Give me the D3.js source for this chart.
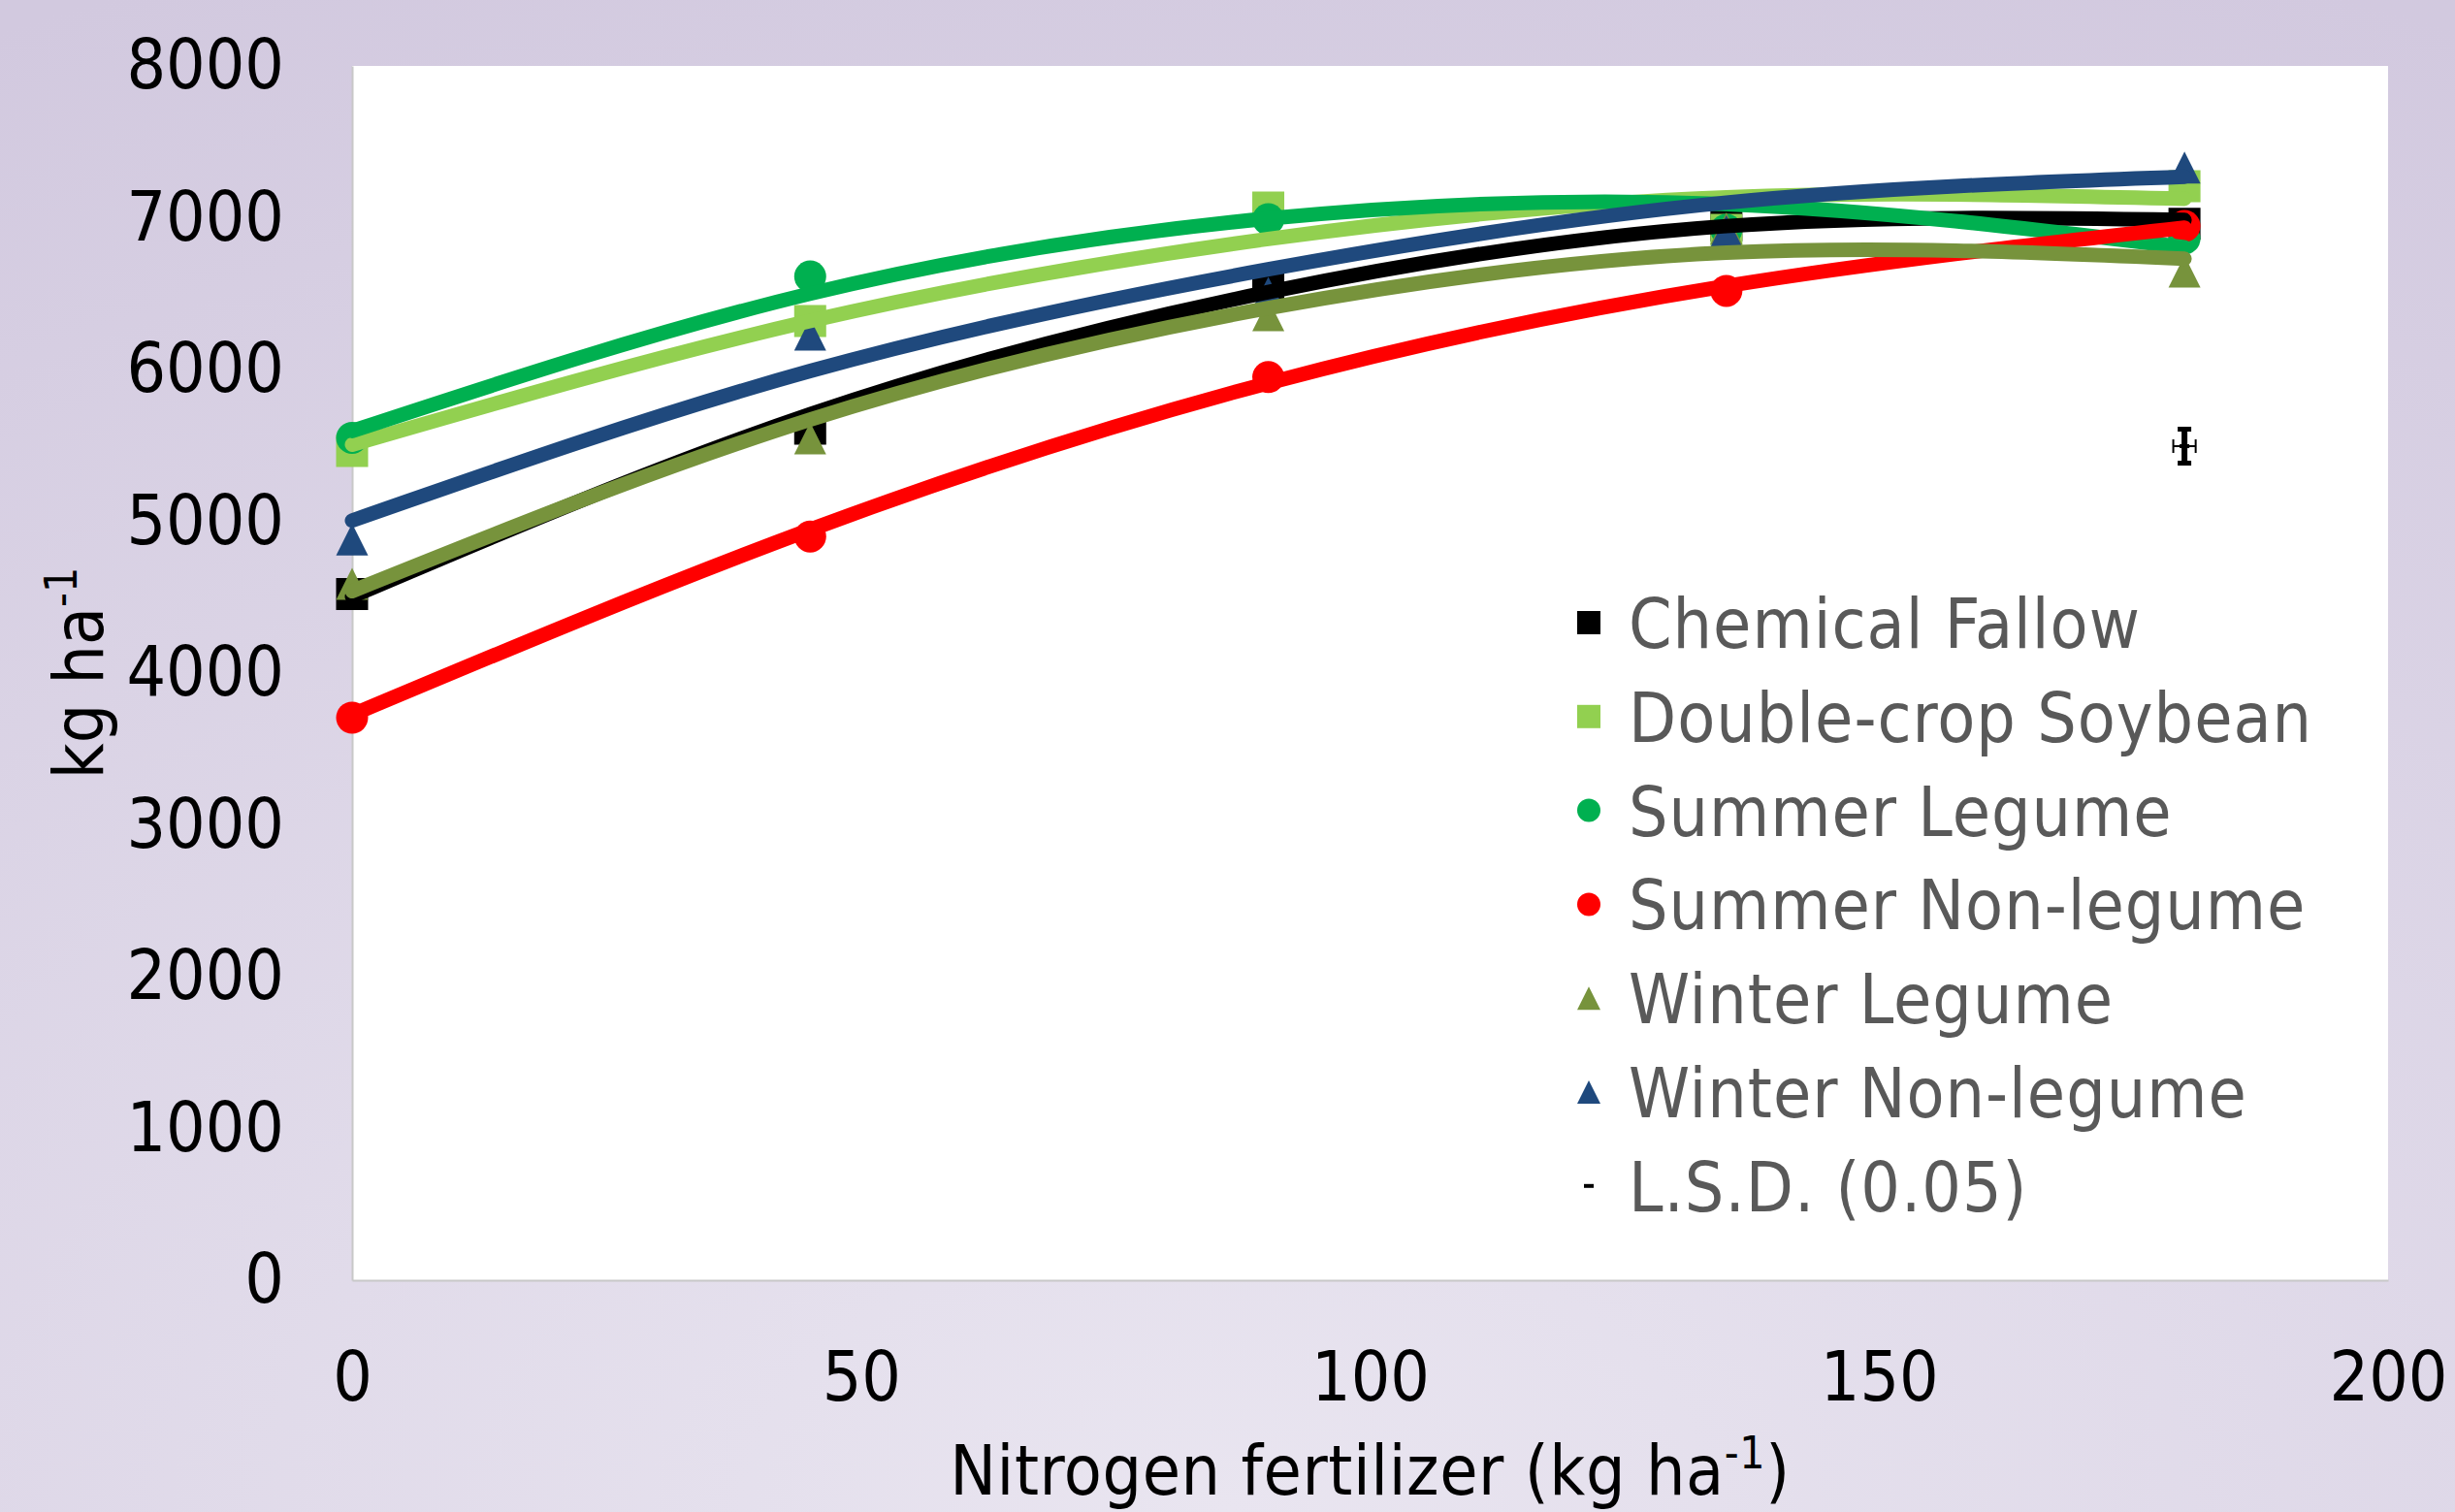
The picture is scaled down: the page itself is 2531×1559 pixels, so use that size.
<!DOCTYPE html>
<html lang="en">
<head>
<meta charset="utf-8">
<title>Yield response to nitrogen fertilizer</title>
<script src="https://cdnjs.cloudflare.com/ajax/libs/d3/7.8.5/d3.min.js"></script>
<style>
  body { margin: 0; overflow: hidden; }
  text { font-family: "DejaVu Sans Condensed", "DejaVu Sans", sans-serif; font-stretch: condensed; }
</style>
</head>
<body>
<svg id="chart"></svg>
<script>
  // N rates on the x axis
  var nRates = [0, 45, 90, 135, 180];

  var seriesNames = ["Chemical Fallow", "Double-crop Soybean", "Summer Legume",
    "Summer Non-legume", "Winter Legume", "Winter Non-legume"];

  // observed yields (kg/ha) at each N rate
  var chemicalFallow   = [4520, 5610, 6560, 6950, 6960];
  var doubleCropSoy    = [5463, 6320, 7067, 6920, 7208];
  var summerLegume     = [5550, 6613, 6990, 6920, 6863];
  var summerNonLegume  = [3706, 4900, 5950, 6518, 6945];
  var winterLegume     = [4588, 5546, 6358, 6930, 6645];
  var winterNonLegume  = [4880, 6230, 6505, 6910, 7330];

  // trend line values at the same N rates
  var chemicalFallowTrend  = [4505, 5705, 6510, 6945, 6985];
  var doubleCropSoyTrend   = [5505, 6320, 6860, 7135, 7125];
  var summerLegumeTrend    = [5595, 6500, 6995, 7090, 6805];
  var summerNonLegumeTrend = [3725, 4945, 5911, 6550, 6935];
  var winterLegumeTrend    = [4540, 5670, 6405, 6770, 6730];
  var winterNonLegumeTrend = [5005, 5990, 6660, 7100, 7270];

  // L.S.D. (0.05) bar
  var lsdPoint = { n: 180, value: 5495, yErr: 112, xErr: 1.1 };

  var yTicks = [0, 1000, 2000, 3000, 4000, 5000, 6000, 7000, 8000];
  var xTicks = [0, 50, 100, 150, 200];

  var W = 2531, H = 1559;
  var colors = ["#000000", "#92d050", "#00b050", "#ff0000", "#77933c", "#1f497d"];
  var shapes = ["square", "square", "circle", "circle", "triangle", "triangle"];

  var series = [
    { name: seriesNames[0], pts: chemicalFallow,  trend: chemicalFallowTrend },
    { name: seriesNames[1], pts: doubleCropSoy,   trend: doubleCropSoyTrend },
    { name: seriesNames[2], pts: summerLegume,    trend: summerLegumeTrend },
    { name: seriesNames[3], pts: summerNonLegume, trend: summerNonLegumeTrend },
    { name: seriesNames[4], pts: winterLegume,    trend: winterLegumeTrend },
    { name: seriesNames[5], pts: winterNonLegume, trend: winterNonLegumeTrend }
  ];
  series.forEach(function (s, i) { s.color = colors[i]; s.shape = shapes[i]; });

  var plot = { left: 363, right: 2462, top: 68, bottom: 1320 };

  var svg = d3.select("#chart").attr("width", W).attr("height", H);

  // lavender background
  var defs = svg.append("defs");
  var grad = defs.append("radialGradient").attr("id", "bg")
    .attr("cx", "50%").attr("cy", "100%").attr("r", "110%");
  grad.append("stop").attr("offset", "0%").attr("stop-color", "#e9e5f0");
  grad.append("stop").attr("offset", "100%").attr("stop-color", "#d2c9df");
  svg.append("rect").attr("width", W).attr("height", H).attr("fill", "url(#bg)");

  svg.append("rect")
    .attr("x", plot.left).attr("y", plot.top)
    .attr("width", plot.right - plot.left).attr("height", plot.bottom - plot.top)
    .attr("fill", "#ffffff");

  var x = d3.scaleLinear().domain([0, 200]).range([plot.left, plot.right]);
  var y = d3.scaleLinear().domain([0, 8000]).range([plot.bottom, plot.top]);

  // axes
  var yAxis = svg.append("g")
    .attr("transform", "translate(" + plot.left + ",0)")
    .call(d3.axisLeft(y).tickValues(yTicks).tickSize(0).tickPadding(70).tickFormat(d3.format("d")));
  var xAxis = svg.append("g")
    .attr("transform", "translate(0," + plot.bottom + ")")
    .call(d3.axisBottom(x).tickValues(xTicks).tickSize(0).tickPadding(74));

  [xAxis, yAxis].forEach(function (g) {
    g.select(".domain").attr("stroke", "#c8c8c8").attr("stroke-width", 2);
    g.selectAll("text").attr("font-size", 71).attr("fill", "#000")
      .style("font-family", "'DejaVu Sans Condensed', 'DejaVu Sans', sans-serif");
  });

  // marker shapes
  function markerPath(shape, s) {
    var h = s / 2;
    if (shape === "square") return "M" + (-h) + "," + (-h) + "H" + h + "V" + h + "H" + (-h) + "Z";
    if (shape === "triangle") return "M0," + (-h) + "L" + h + "," + h + "L" + (-h) + "," + h + "Z";
    return d3.symbol(d3.symbolCircle, Math.PI * h * h)();
  }

  // markers first
  series.forEach(function (s) {
    svg.append("g").selectAll("path")
      .data(s.pts)
      .join("path")
      .attr("d", markerPath(s.shape, 33))
      .attr("transform", function (d, i) { return "translate(" + x(nRates[i]) + "," + y(d) + ")"; })
      .attr("fill", s.color);
  });

  // L.S.D. bar
  var lsd = svg.append("g").attr("stroke", "#000");
  var lx = x(lsdPoint.n), ly = y(lsdPoint.value);
  var yTop = y(lsdPoint.value + lsdPoint.yErr), yBot = y(lsdPoint.value - lsdPoint.yErr);
  var xL = x(lsdPoint.n - lsdPoint.xErr), xR = x(lsdPoint.n + lsdPoint.xErr);
  lsd.append("line").attr("x1", lx).attr("x2", lx).attr("y1", yTop).attr("y2", yBot).attr("stroke-width", 6);
  lsd.append("line").attr("x1", lx - 7).attr("x2", lx + 7).attr("y1", yTop).attr("y2", yTop).attr("stroke-width", 5);
  lsd.append("line").attr("x1", lx - 7).attr("x2", lx + 7).attr("y1", yBot).attr("y2", yBot).attr("stroke-width", 5);
  lsd.append("line").attr("x1", xL).attr("x2", xR).attr("y1", ly).attr("y2", ly).attr("stroke-width", 2);
  lsd.append("line").attr("x1", xL).attr("x2", xL).attr("y1", ly - 7).attr("y2", ly + 7).attr("stroke-width", 2);
  lsd.append("line").attr("x1", xR).attr("x2", xR).attr("y1", ly - 7).attr("y2", ly + 7).attr("stroke-width", 2);
  lsd.append("rect").attr("x", lx - 5).attr("y", ly - 2).attr("width", 10).attr("height", 4).attr("fill", "#000").attr("stroke", "none");

  // polynomial trend lines on top
  var line = d3.line()
    .x(function (d, i) { return x(nRates[i]); })
    .y(function (d) { return y(d); })
    .curve(d3.curveNatural);

  series.forEach(function (s) {
    svg.append("path")
      .attr("d", line(s.trend))
      .attr("fill", "none")
      .attr("stroke", s.color)
      .attr("stroke-width", 15)
      .attr("stroke-linecap", "round");
  });

  // legend
  var legendItems = series.map(function (s) { return { name: s.name, color: s.color, shape: s.shape }; });
  legendItems.push({ name: "L.S.D. (0.05)", color: "#000", shape: "dash" });

  var legend = svg.append("g").selectAll("g")
    .data(legendItems)
    .join("g")
    .attr("transform", function (d, i) { return "translate(1638," + (642 + i * 96.8) + ")"; });

  legend.append("path")
    .attr("d", function (d) {
      return d.shape === "dash" ? "M-5,-2H5V2H-5Z" : markerPath(d.shape, 24);
    })
    .attr("fill", function (d) { return d.color; });

  legend.append("text")
    .attr("x", 41)
    .attr("y", 26)
    .attr("font-size", 71)
    .attr("letter-spacing", 1)
    .attr("fill", "#595959")
    .text(function (d) { return d.name; });

  // axis titles
  var xTitle = svg.append("text")
    .attr("x", (plot.left + plot.right) / 2)
    .attr("y", 1541)
    .attr("text-anchor", "middle")
    .attr("font-size", 71)
    .attr("letter-spacing", 0.6)
    .attr("fill", "#000");
  xTitle.append("tspan").text("Nitrogen fertilizer (kg ha");
  xTitle.append("tspan").attr("font-size", 46).attr("dy", -27).text("-1");
  xTitle.append("tspan").attr("dy", 27).text(")");

  var yTitle = svg.append("text")
    .attr("transform", "translate(106," + ((plot.top + plot.bottom) / 2) + ") rotate(-90)")
    .attr("text-anchor", "middle")
    .attr("font-size", 71)
    .attr("fill", "#000");
  yTitle.append("tspan").text("kg ha");
  yTitle.append("tspan").attr("font-size", 46).attr("dy", -27).text("-1");
</script>
</body>
</html>
